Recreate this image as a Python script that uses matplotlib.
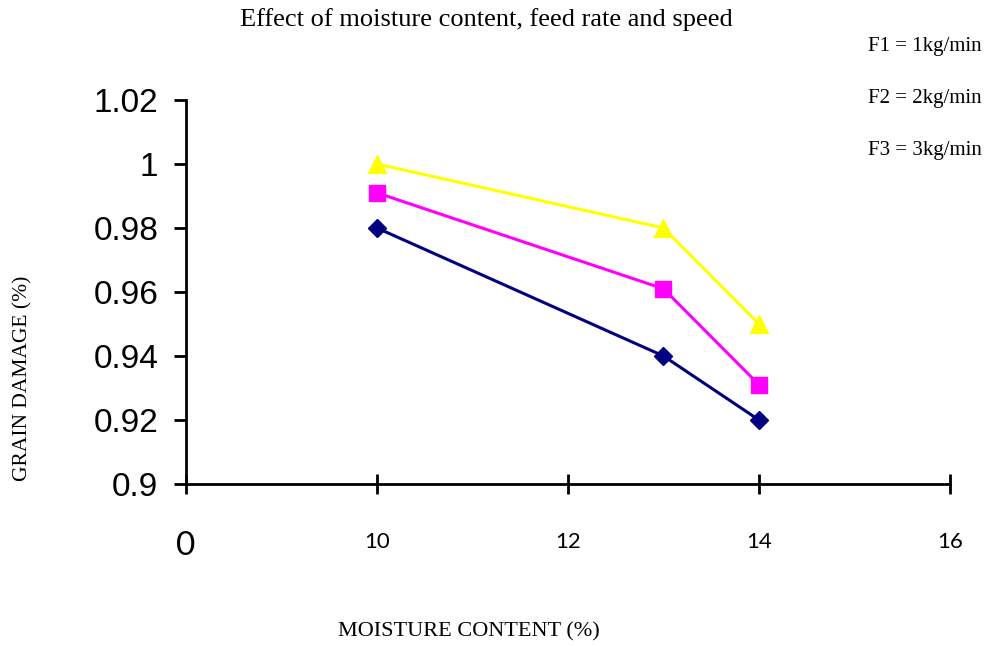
import matplotlib
matplotlib.use("Agg")
import matplotlib.pyplot as plt

# data
moisture = [10, 13, 14]
f1_damage = [0.98, 0.94, 0.92]
f2_damage = [0.991, 0.961, 0.931]
f3_damage = [1.0, 0.98, 0.95]
x_ticks = [10, 12, 14, 16]
y_ticks = [0.9, 0.92, 0.94, 0.96, 0.98, 1.0, 1.02]
y_tick_labels = ["0.9", "0.92", "0.94", "0.96", "0.98", "1", "1.02"]
notes = ["F1 = 1kg/min", "F2 = 2kg/min", "F3 = 3kg/min"]

serif = "Liberation Serif"

fig = plt.figure(figsize=(9.94, 6.46), dpi=100)
ax = fig.add_axes([0.1871, 0.2508, 0.9557 - 0.1871, 0.8452 - 0.2508])

ax.plot(moisture, f1_damage, color="#000080", lw=2.2, marker="D", ms=9.5, clip_on=False)
ax.plot(moisture, f2_damage, color="#FF00FF", lw=2.2, marker="s", ms=11.5, clip_on=False)
ax.plot(moisture, f3_damage, color="#FFFF00", lw=2.2, marker="^", ms=13.5, clip_on=False)

ax.set_xlim(8, 16)
ax.set_ylim(0.9, 1.02)
ax.set_xticks([8] + x_ticks)
ax.set_xticklabels([""] + [str(t) for t in x_ticks], fontfamily="Lato", fontsize=16)
ax.set_yticks(y_ticks)
ax.set_yticklabels(y_tick_labels, fontfamily="Liberation Sans", fontsize=24)

for side in ["top", "right"]:
    ax.spines[side].set_visible(False)
for side in ["left", "bottom"]:
    ax.spines[side].set_linewidth(2)
ax.tick_params(axis="x", direction="inout", length=15, width=2, pad=27)
ax.tick_params(axis="y", direction="out", length=9, width=2, pad=11)

# stray "0" under the origin, as in the source chart
fig.text(186 / 994, 1 - 546 / 646, "0", fontfamily="Lato", fontsize=24,
         ha="center", va="center")

fig.text(486 / 994, 1 - 20 / 646, "Effect of moisture content, feed rate and speed",
         fontfamily=serif, fontsize=19, ha="center", va="center")
fig.text(469 / 994, 1 - 632 / 646, "MOISTURE CONTENT (%)",
         fontfamily=serif, fontsize=16, ha="center", va="center")
fig.text(23 / 994, 1 - 378 / 646, "GRAIN DAMAGE (%)", rotation=90,
         fontfamily=serif, fontsize=15.5, ha="center", va="center")

for i, note in enumerate(notes):
    fig.text(868 / 994, 1 - (46 + i * 52.5) / 646, note,
             fontfamily=serif, fontsize=15, ha="left", va="center")

fig.savefig("out.png", dpi=100)
